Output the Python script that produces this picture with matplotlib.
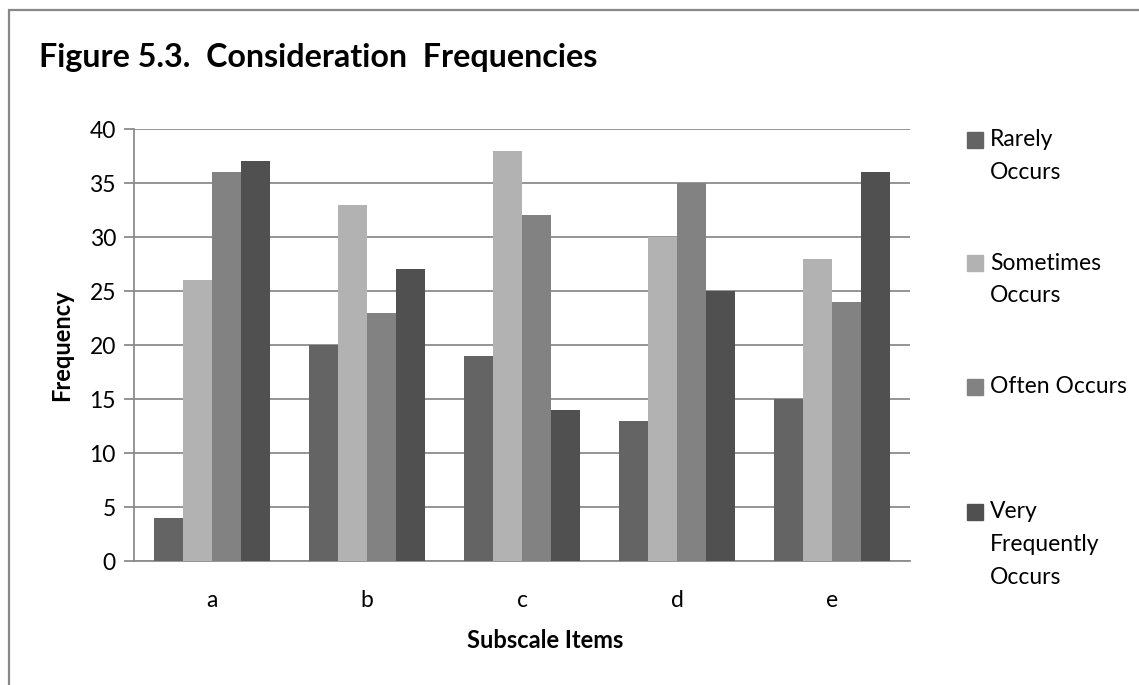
import numpy as np
from matplotlib import pyplot as plt
from matplotlib.patches import Rectangle

# Data
items = ['a', 'b', 'c', 'd', 'e']
series = ['Rarely\nOccurs', 'Sometimes\nOccurs', 'Often Occurs', 'Very\nFrequently\nOccurs']
rarely = [4, 20, 19, 13, 15]
sometimes = [26, 33, 38, 30, 28]
often = [36, 23, 32, 35, 24]
very = [37, 27, 14, 25, 36]
colors = ['#646464', '#b2b2b2', '#828282', '#505050']

plt.rcParams['font.family'] = ['Lato', 'DejaVu Sans']

W, H = 1139, 685
fig = plt.figure(figsize=(W / 100, H / 100), dpi=100)

# outer chart border (left/top visible, right/bottom cut off)
fig.patches.append(Rectangle((9 / W, -0.1), 1.2, 1 - 10 / H + 0.1, transform=fig.transFigure,
                             fill=False, edgecolor='#888888', linewidth=1.6))

ax = fig.add_axes([134 / W, 1 - 561 / H, (910 - 134) / W, (561 - 129) / H])

x = np.arange(len(items))
bw = 0.187
values = [rarely, sometimes, often, very]
for i, vals in enumerate(values):
    ax.bar(x + (i - 1.5) * bw, vals, width=bw, color=colors[i], linewidth=0, zorder=3)

ax.set_xlim(-0.5, len(items) - 0.5)
ax.set_ylim(0, 40)
ax.set_yticks(range(0, 41, 5))
ax.set_xticks(x)
ax.set_xticklabels(items)
ax.yaxis.grid(True, color='#8c8c8c', linewidth=1.3, zorder=0)
ax.tick_params(axis='y', length=7, width=1.3, color='#8c8c8c', pad=6, labelsize=16.5)
ax.tick_params(axis='x', length=0, pad=21, labelsize=16.5)
for s in ['top', 'right']:
    ax.spines[s].set_visible(False)
for s in ['left', 'bottom']:
    ax.spines[s].set_color('#8c8c8c')
    ax.spines[s].set_linewidth(1.3)

fig.text(39 / W, 1 - 57 / H, 'Figure 5.3.  Consideration  Frequencies', fontsize=23.2,
         fontweight='bold', va='center', ha='left')
fig.text(62 / W, 1 - 345 / H, 'Frequency', rotation=90, fontsize=17, fontweight='bold',
         va='center', ha='center')
fig.text(545 / W, 1 - 640 / H, 'Subscale Items', fontsize=17, fontweight='bold',
         va='center', ha='center')

# legend drawn by hand to match the spacing of the original
leg_y = [140, 263, 387, 512]
for lab, col, yy in zip(series, colors, leg_y):
    fig.patches.append(Rectangle((967 / W, 1 - (yy + 8) / H), 16 / W, 16 / H,
                                 transform=fig.transFigure, color=col))
    for k, line in enumerate(lab.split('\n')):
        fig.text(990 / W, 1 - (yy + 32.5 * k) / H, line, fontsize=16.5, va='center', ha='left')

fig.savefig('out.png', dpi=100)
